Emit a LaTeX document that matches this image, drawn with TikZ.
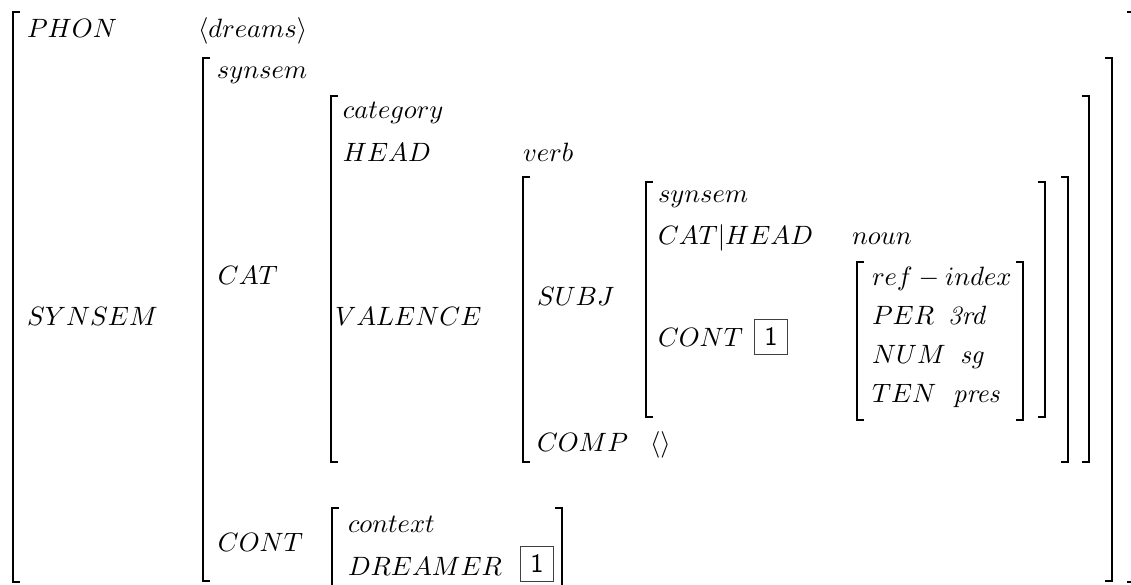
\documentclass[tikz,border=0pt]{standalone}
\begin{document}
\begin{tikzpicture}[x=0.37736pt, y=-0.37736pt,
  lbl/.style={anchor=base west, inner sep=0pt, outer sep=0pt},
  brk/.style={line width=0.75pt, line cap=butt, line join=miter},
  tag/.style={draw=black!75, line width=0.45pt, inner sep=0pt, minimum width=12.2pt, minimum height=13pt, font=\sffamily, anchor=center}]
\useasboundingbox (0,0) rectangle (1131,585);
\newcommand{\avmbrack}[4]{%
  \draw[brk] (#1+7,#3) -- (#1,#3) -- (#1,#4) -- (#1+7,#4);
  \draw[brk] (#2-7,#3) -- (#2,#3) -- (#2,#4) -- (#2-7,#4);}
% brackets
\avmbrack{13}{1134}{12}{582}
\avmbrack{203}{1112}{58}{581}
\avmbrack{331}{1089}{96}{462}
\avmbrack{523}{1068}{177}{462}
\avmbrack{646}{1045}{182}{417}
\avmbrack{857}{1023}{262}{420}
\avmbrack{332}{562}{508}{600}
% texts
\node[lbl] (phon) at (27,38) {$PHON$};
\node[lbl] (dreams) at (198,38) {$\langle dreams\rangle$};
\node[lbl] (synsemT) at (217,79) {$synsem$};
\node[lbl] (synsemF) at (27,326) {$SYNSEM$};
\node[lbl] (cat) at (218,285) {$CAT$};
\node[lbl] (category) at (343,119) {$category$};
\node[lbl] (head) at (343,162) {$HEAD$};
\node[lbl] (verb) at (523,162) {$verb$};
\node[lbl] (valence) at (335,326) {$VALENCE$};
\node[lbl] (subj) at (537,306) {$SUBJ$};
\node[lbl] (synsemB) at (658,203) {$synsem$};
\node[lbl] (cathead) at (658,245) {$CAT|HEAD$};
\node[lbl] (noun) at (852,245) {$noun$};
\node[lbl] (cont) at (658,347) {$CONT$};
\node[tag] (tagA) at (771,337) {1};
\node[lbl] (refidx) at (872,286) {$ref-index$};
\node[lbl] (per) at (872,325) {$PER$};
\node[lbl] (third) at (948,325) {\textit{3rd}};
\node[lbl] (num) at (872,364) {$NUM$};
\node[lbl] (sg) at (960,364) {\textit{sg}};
\node[lbl] (ten) at (872,403) {$TEN$};
\node[lbl] (pres) at (953,403) {\textit{pres}};
\node[lbl] (comp) at (537,452) {$COMP$};
\node[lbl] (empty) at (650,452) {$\langle\rangle$};
\node[lbl] (contB) at (218,552) {$CONT$};
\node[lbl] (context) at (348,533) {$context$};
\node[lbl] (dreamer) at (348,576) {$DREAMER$};
\node[tag] (tagB) at (537,564) {1};
\end{tikzpicture}
\end{document}
